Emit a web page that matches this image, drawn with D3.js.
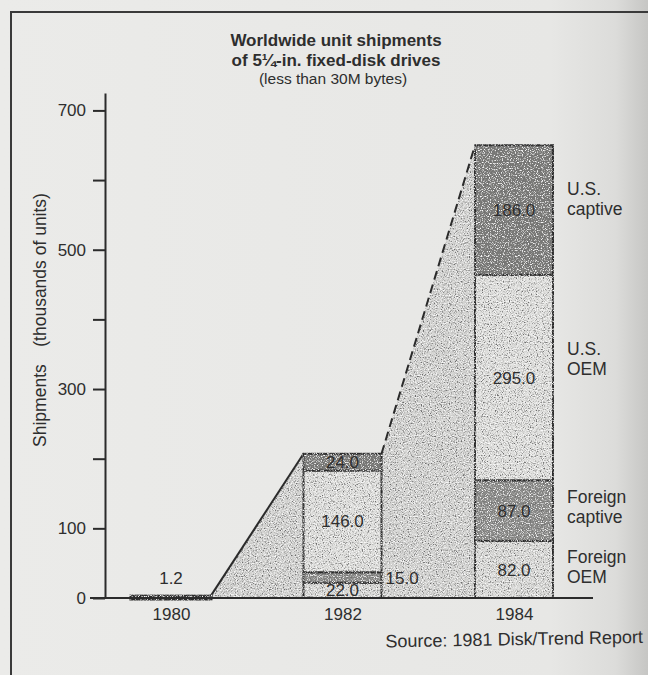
<!DOCTYPE html>
<html>
<head>
<meta charset="utf-8">
<script src="https://cdn.jsdelivr.net/npm/d3@7"></script>
<style>
  html, body { margin: 0; padding: 0; background: #e8e8e6; }
  svg { display: block; font-family: "Liberation Sans", Arial, Helvetica, sans-serif; }
  text { fill: #2e2e2e; }
</style>
</head>
<body>
<svg id="chart" width="648" height="675"></svg>
<script>
// Worldwide unit shipments of 5¼-in. fixed-disk drives, thousands of units
const years = ["1980", "1982", "1984"];
const seriesKeys = ["Foreign OEM", "Foreign captive", "U.S. OEM", "U.S. captive"];
const foreignOEM     = [0, 22.0, 82.0];
const foreignCaptive = [0, 15.0, 87.0];
const usOEM          = [0, 146.0, 295.0];
const usCaptive      = [0, 24.0, 186.0];
// 1980 is reported only as an undivided total
const undividedTotal = [1.2, 0, 0];

const yTicks = [0, 100, 200, 300, 400, 500, 600, 700];
const yTickLabels = ["0", "100", "", "300", "", "500", "", "700"];
const legendLines = [["Foreign", "OEM"], ["Foreign", "captive"], ["U.S.", "OEM"], ["U.S.", "captive"]];

const titleLines = ["Worldwide unit shipments", "of 5\u00BC-in. fixed-disk drives"];
const subtitle = "(less than 30M bytes)";
const yAxisTitle = "Shipments\u2002\u2002(thousands of units)";
const sourceNote = "Source: 1981 Disk/Trend Report";

const rows = years.map((yr, i) => ({
  year: yr,
  "Foreign OEM": foreignOEM[i],
  "Foreign captive": foreignCaptive[i],
  "U.S. OEM": usOEM[i],
  "U.S. captive": usCaptive[i],
  undivided: undividedTotal[i]
}));
rows.forEach(r => { r.total = r.undivided + seriesKeys.reduce((s, k) => s + r[k], 0); });

const W = 648, H = 675;
const axisX = 105, baseY = 598, topY = 93;
const barW = 78;
const ink = "#2b2b2b";

const svg = d3.select("#chart");

// paper background, darkening where the page curls on the right
const defs = svg.append("defs");
const bg = defs.append("linearGradient").attr("id", "paper").attr("x1", 0).attr("x2", 1).attr("y1", 0).attr("y2", 0);
[[0, "#ebebe9"], [0.85, "#e7e7e5"], [0.95, "#dcdcda"], [1, "#c6c6c4"]].forEach(([o, c]) =>
  bg.append("stop").attr("offset", o).attr("stop-color", c));

// halftone speckle for the shaded fills (whole-page filter region so strokes are kept)
const grain = defs.append("filter").attr("id", "grain").attr("filterUnits", "userSpaceOnUse")
  .attr("x", 0).attr("y", 0).attr("width", W).attr("height", H);
grain.append("feTurbulence").attr("type", "fractalNoise").attr("baseFrequency", 0.85)
  .attr("numOctaves", 2).attr("seed", 7).attr("result", "noise");
grain.append("feColorMatrix").attr("in", "noise").attr("type", "matrix")
  .attr("values", "0 0 0 0 0.15  0 0 0 0 0.15  0 0 0 0 0.15  4 0 0 0 -2.1").attr("result", "dark");
grain.append("feColorMatrix").attr("in", "noise").attr("type", "matrix")
  .attr("values", "0 0 0 0 0.96  0 0 0 0 0.96  0 0 0 0 0.96  -4 0 0 0 1.9").attr("result", "light");
grain.append("feComposite").attr("in", "dark").attr("in2", "SourceAlpha").attr("operator", "in").attr("result", "darkIn");
grain.append("feComposite").attr("in", "light").attr("in2", "SourceAlpha").attr("operator", "in").attr("result", "lightIn");
const merge = grain.append("feMerge");
merge.append("feMergeNode").attr("in", "SourceGraphic");
merge.append("feMergeNode").attr("in", "darkIn");
merge.append("feMergeNode").attr("in", "lightIn");

svg.append("rect").attr("width", W).attr("height", H).attr("fill", "url(#paper)");

// frame rules along the top and left
svg.append("path").attr("d", `M11,${H} V12 H${W}`).attr("fill", "none")
  .attr("stroke", "#3a3a3a").attr("stroke-width", 2);

const x = d3.scalePoint().domain(years).range([171, 514]);
const y = d3.scaleLinear().domain([0, 725]).range([baseY, topY]);

const fills = {
  "Foreign OEM": "#d9d9d7",
  "Foreign captive": "#8c8c8a",
  "U.S. OEM": "#dededc",
  "U.S. captive": "#7a7a78",
  undivided: "#5a5a58"
};

// growth wedges joining the top of one bar to the next
const wedgeG = svg.append("g");
for (let i = 0; i < rows.length - 1; i++) {
  const a = rows[i], b = rows[i + 1];
  const x0 = x(a.year) + barW / 2, x1 = x(b.year) - barW / 2;
  wedgeG.append("path")
    .attr("d", `M${x0},${y(0)} L${x0},${y(a.total)} L${x1},${y(b.total)} L${x1},${y(0)} Z`)
    .attr("fill", "#d3d3d1").attr("filter", "url(#grain)");
  wedgeG.append("line")
    .attr("x1", x0).attr("y1", y(a.total)).attr("x2", x1).attr("y2", y(b.total))
    .attr("stroke", ink).attr("stroke-width", 2)
    .attr("stroke-dasharray", i === 0 ? null : "9,5");
}

// stacked bars
const stackKeys = ["undivided", ...seriesKeys];
const stacked = d3.stack().keys(stackKeys)(rows);
const barG = svg.append("g");
stacked.forEach(layer => {
  layer.forEach(seg => {
    const v = seg[1] - seg[0];
    if (v <= 0) return;
    const yr = seg.data.year;
    barG.append("rect")
      .attr("x", x(yr) - barW / 2).attr("width", barW)
      .attr("y", y(seg[1])).attr("height", y(seg[0]) - y(seg[1]))
      .attr("fill", fills[layer.key]).attr("filter", "url(#grain)")
      .attr("stroke", ink).attr("stroke-width", layer.key === "undivided" ? 5 : 2);
  });
});

// value labels
const labelG = svg.append("g").attr("font-size", 17);
stacked.forEach(layer => {
  layer.forEach(seg => {
    const v = seg[1] - seg[0];
    if (v <= 0) return;
    const yr = seg.data.year;
    const h = y(seg[0]) - y(seg[1]);
    let tx, ty, anchor;
    if (layer.key === "undivided") {
      tx = x(yr); ty = y(seg[1]) - 19; anchor = "middle";
    } else if (h < 14) {
      tx = x(yr) + barW / 2 + 4; ty = (y(seg[0]) + y(seg[1])) / 2; anchor = "start";
    } else {
      tx = x(yr); ty = (y(seg[0]) + y(seg[1])) / 2; anchor = "middle";
    }
    labelG.append("text").attr("x", tx).attr("y", ty).attr("dy", "0.36em")
      .attr("text-anchor", anchor).text(d3.format(".1f")(v));
  });
});

// series names beside the last bar
const last = stacked.map(l => l[l.length - 1]);
const legendNudge = [-2, -4, -19, -11];
const legX = x(years[years.length - 1]) + barW / 2 + 14;
const legG = svg.append("g").attr("font-size", 17.5);
seriesKeys.forEach((k, i) => {
  const seg = last[stackKeys.indexOf(k)];
  const cy = (y(seg[0]) + y(seg[1])) / 2 + legendNudge[i];
  const t = legG.append("text").attr("x", legX).attr("y", cy - 4);
  legendLines[i].forEach((ln, j) => t.append("tspan")
    .attr("x", legX).attr("dy", j ? 20 : 0).text(ln));
});

// y axis
const yAxis = svg.append("g").attr("transform", `translate(${axisX},0)`)
  .call(d3.axisLeft(y).tickValues(yTicks).tickFormat((d, i) => yTickLabels[i])
    .tickSize(12).tickSizeOuter(0).tickPadding(7));
yAxis.select(".domain").attr("stroke", ink).attr("stroke-width", 2);
yAxis.selectAll(".tick line").attr("stroke", ink).attr("stroke-width", 2);
yAxis.selectAll(".tick text").attr("font-size", 17).attr("fill", "#2e2e2e")
  .attr("font-family", "Liberation Sans, Arial, sans-serif");

// baseline
svg.append("line").attr("x1", axisX - 15).attr("x2", x(years[years.length - 1]) + barW / 2 + 40)
  .attr("y1", y(0)).attr("y2", y(0)).attr("stroke", ink).attr("stroke-width", 2);

// year labels
const xAxis = svg.append("g").attr("transform", `translate(0,${y(0)})`)
  .call(d3.axisBottom(x).tickSize(0).tickPadding(10));
xAxis.select(".domain").remove();
xAxis.selectAll(".tick text").attr("font-size", 17).attr("fill", "#2e2e2e")
  .attr("font-family", "Liberation Sans, Arial, sans-serif");

// axis title
svg.append("text").attr("transform", "translate(46,320) rotate(-90)")
  .attr("text-anchor", "middle").attr("font-size", 17.5).text(yAxisTitle);

// title block
titleLines.forEach((t, i) => svg.append("text").attr("x", 336).attr("y", 46 + i * 19.5)
  .attr("text-anchor", "middle").attr("font-size", 17).attr("font-weight", "bold").text(t));
svg.append("text").attr("x", 333).attr("y", 84).attr("text-anchor", "middle")
  .attr("font-size", 15.5).text(subtitle);

// source note
svg.append("text").attr("x", 643).attr("y", 643).attr("text-anchor", "end")
  .attr("font-size", 18).attr("transform", "rotate(-1,643,643)").text(sourceNote);
</script>
</body>
</html>
